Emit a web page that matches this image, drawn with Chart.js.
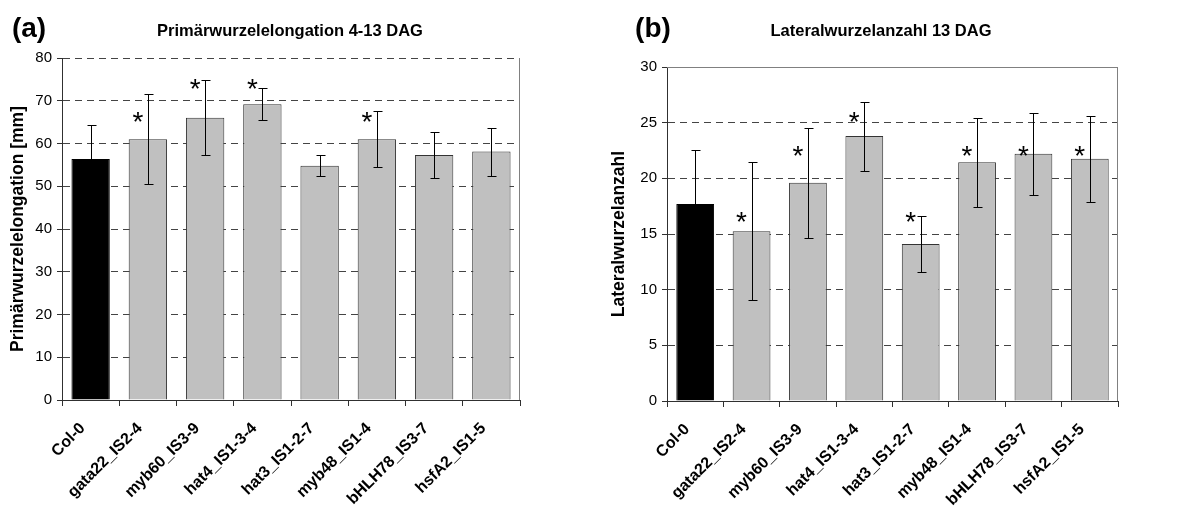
<!DOCTYPE html>
<html>
<head>
<meta charset="utf-8">
<script src="https://cdn.jsdelivr.net/npm/chart.js@4.4.1/dist/chart.umd.min.js"></script>
<style>
  html, body { margin: 0; padding: 0; background: #fff; }
  #wrap { position: relative; width: 1198px; height: 518px; }
  canvas { position: absolute; top: 0; }
  #ca { left: 0; }
  #cb { left: 600px; }
</style>
</head>
<body>
<div id="wrap">
  <canvas id="ca" width="600" height="518"></canvas>
  <canvas id="cb" width="598" height="518"></canvas>
</div>
<script>
// categories (plant lines)
const lines = ['Col-0', 'gata22_IS2-4', 'myb60_IS3-9', 'hat4_IS1-3-4', 'hat3_IS1-2-7', 'myb48_IS1-4', 'bHLH78_IS3-7', 'hsfA2_IS1-5'];

// (a) primary root elongation 4-13 DAG [mm]
const primMean = [56.4, 61.0, 66.0, 69.2, 54.8, 61.0, 57.3, 58.1];
const primErr = [8.0, 10.5, 8.8, 3.8, 2.4, 6.6, 5.4, 5.6];
const primStars = [null, 66.2, 73.9, 73.9, null, 66.2, null, null];
const primTicks = [0, 10, 20, 30, 40, 50, 60, 70, 80];

// (b) lateral root number 13 DAG
const latMean = [17.7, 15.25, 19.6, 23.8, 14.1, 21.45, 22.2, 21.75];
const latErr = [4.85, 6.2, 4.95, 3.1, 2.5, 4.0, 3.7, 3.85];
const latStars = [null, 16.5, 22.5, 25.5, 16.5, 22.5, 22.5, 22.5];
const latTicks = [0, 5, 10, 15, 20, 25, 30];

const FONT = '"Liberation Sans", Arial, sans-serif';
const AXIS = '#303030';

// error bars, asterisks, panel titles
const extras = {
  id: 'extras',
  afterDatasetsDraw(chart, args, opts) {
    const ctx = chart.ctx;
    const ys = chart.scales.y;
    const area = chart.chartArea;
    const bars = chart.getDatasetMeta(0).data;
    ctx.save();
    // plot area border
    ctx.strokeStyle = '#808080';
    ctx.lineWidth = 1;
    ctx.setLineDash([]);
    ctx.beginPath();
    ctx.moveTo(Math.round(area.right) - 0.5, area.top);
    ctx.lineTo(Math.round(area.right) - 0.5, area.bottom);
    if (opts.topBorder) {
      ctx.moveTo(area.left, Math.round(area.top) + 0.5);
      ctx.lineTo(area.right, Math.round(area.top) + 0.5);
    }
    ctx.stroke();

    ctx.strokeStyle = '#000';
    bars.forEach((bar, i) => {
      const x = Math.round(bar.x) + 0.5;
      const hi = Math.round(ys.getPixelForValue(opts.mean[i] + opts.err[i])) + 0.5;
      const lo = Math.round(ys.getPixelForValue(opts.mean[i] - opts.err[i])) + 0.5;
      ctx.beginPath();
      ctx.moveTo(x, hi); ctx.lineTo(x, lo);
      ctx.moveTo(x - 4, hi); ctx.lineTo(x + 5, hi);
      ctx.moveTo(x - 4, lo); ctx.lineTo(x + 5, lo);
      ctx.stroke();
    });

    ctx.fillStyle = '#000';
    ctx.font = '28px ' + FONT;
    ctx.textAlign = 'center';
    ctx.textBaseline = 'alphabetic';
    const m = ctx.measureText('*');
    const off = (m.actualBoundingBoxAscent - m.actualBoundingBoxDescent) / 2;
    bars.forEach((bar, i) => {
      if (opts.stars[i] == null) return;
      ctx.fillText('*', bar.x - 10, ys.getPixelForValue(opts.stars[i]) + off);
    });
    ctx.restore();
  },
  afterDraw(chart, args, opts) {
    const ctx = chart.ctx;
    ctx.save();
    ctx.fillStyle = '#000';
    ctx.textAlign = 'center';
    ctx.textBaseline = 'middle';
    ctx.font = 'bold 16.5px ' + FONT;
    ctx.fillText(opts.title, opts.titleX, 31);
    ctx.font = 'bold 28px ' + FONT;
    ctx.fillText(opts.letter, opts.letterX, 29);
    ctx.restore();
  }
};

function makeChart(id, cfg) {
  return new Chart(document.getElementById(id), {
    type: 'bar',
    data: {
      labels: lines,
      datasets: [{
        data: cfg.mean,
        backgroundColor: lines.map((l, i) => i === 0 ? '#000000' : '#c0c0c0'),
        borderColor: lines.map((l, i) => i === 0 ? '#000000' : '#333333'),
        borderWidth: 1,
        barPercentage: 0.67,
        categoryPercentage: 1.0,
      }],
    },
    options: {
      responsive: false,
      animation: false,
      devicePixelRatio: 1,
      layout: { padding: { top: cfg.top, right: cfg.right, left: 0, bottom: 0 } },
      plugins: {
        legend: { display: false },
        tooltip: { enabled: false },
        extras: {
          mean: cfg.mean, err: cfg.err, stars: cfg.stars,
          title: cfg.title, titleX: cfg.titleX,
          letter: cfg.letter, letterX: cfg.letterX,
          topBorder: cfg.topBorder,
        },
      },
      scales: {
        x: {
          afterFit: s => { s.height = 518 - cfg.bottom; },
          grid: { drawOnChartArea: false, drawTicks: true, tickLength: 6, color: AXIS, offset: true },
          border: { color: AXIS, width: 1 },
          ticks: {
            autoSkip: false, minRotation: 45, maxRotation: 45, padding: 13, labelOffset: -8,
            color: '#000', font: { family: FONT, size: 16, weight: 'bold' },
          },
        },
        y: {
          min: 0,
          max: cfg.ticks[cfg.ticks.length - 1],
          afterFit: s => { s.width = cfg.left; },
          afterBuildTicks: s => { s.ticks = cfg.ticks.map(v => ({ value: v })); },
          grid: {
            color: c => (c.tick && c.tick.value === 0) ? 'rgba(0,0,0,0)' : '#444444',
            tickColor: AXIS, tickLength: 5, tickBorderDash: [],
          },
          border: { color: AXIS, width: 1, dash: [7, 5] },
          ticks: { padding: 5, color: '#000', font: { family: FONT, size: 15 } },
          title: {
            display: true, text: cfg.yTitle, color: '#000',
            font: { family: FONT, size: 17.5, weight: 'bold' },
            padding: { top: cfg.yTitlePad, bottom: 0 },
          },
        },
      },
    },
    plugins: [extras],
  });
}

makeChart('ca', {
  mean: primMean, err: primErr, stars: primStars, ticks: primTicks,
  title: 'Primärwurzelelongation 4-13 DAG', titleX: 290,
  letter: '(a)', letterX: 29, topBorder: false,
  yTitle: 'Primärwurzelelongation [mm]', yTitlePad: 8,
  left: 62, right: 80, top: 58, bottom: 400,
});

makeChart('cb', {
  mean: latMean, err: latErr, stars: latStars, ticks: latTicks,
  title: 'Lateralwurzelanzahl 13 DAG', titleX: 281,
  letter: '(b)', letterX: 53, topBorder: true,
  yTitle: 'Lateralwurzelanzahl', yTitlePad: 9,
  left: 67, right: 80, top: 67, bottom: 401,
});
</script>
</body>
</html>
